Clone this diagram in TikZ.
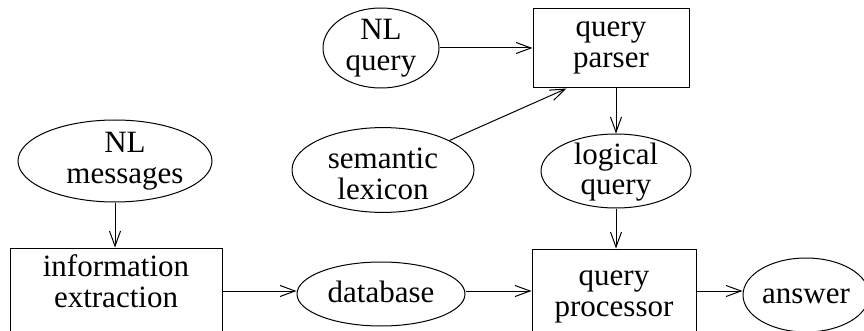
\documentclass[tikz,border=0pt]{standalone}
\usepackage{fontspec}
\setmainfont{Liberation Serif}
\usetikzlibrary{shapes.geometric,arrows.meta}
\begin{document}
\begin{tikzpicture}[x=1pt,y=-1pt,line width=1pt,
  every node/.style={font=\fontsize{31}{31}\selectfont, align=center, inner sep=0pt},
  ell/.style={draw, ellipse},
  box/.style={draw, rectangle},
  th/.style={text height=#1, text depth=0pt},
  arr/.style={-{Straight Barb[length=15pt,width=11pt,line width=1pt]}}]
\useasboundingbox (0,0) rectangle (864,331);
\clip (0,0) rectangle (864,331);
\node[ell, th=46pt, minimum width=116pt, minimum height=80pt] (nlq) at (381,48) {NL\\query};
\node[box, th=39pt, minimum width=156pt, minimum height=79pt] (qparser) at (611,48.5) {query\\parser};
\node[ell, th=60pt, minimum width=182pt, minimum height=84pt] (sem) at (383,170) {semantic\\lexicon};
\node[ell, th=48pt, minimum width=150pt, minimum height=74pt] (log) at (616,171) {logical\\query};
\node[ell, th=44pt, minimum width=194pt, minimum height=82pt] (nlm) at (115,161) {\hspace*{20pt}NL\\\hspace*{20pt}messages};
\node[box, th=32pt, minimum width=212pt, minimum height=86pt] (ie) at (116,291) {information\\extraction};
\node[ell, th=16pt, minimum width=168pt, minimum height=64pt] (db) at (381,294) {database};
\node[box, th=50pt, minimum width=164pt, minimum height=84pt] (qp) at (614,291) {query\\processor};
\node[ell, th=16pt, minimum width=126pt, minimum height=74pt] (ans) at (806,295) {answer};
\draw[arr] (nlq) -- (qparser.west |- nlq);
\draw[arr] (sem) -- ([xshift=34pt]qparser.south west);
\draw[arr] (log.north |- qparser.south) -- (log);
\draw[arr] (log.south) -- (log.south |- qp.north);
\draw[arr] (nlm.south) -- (nlm.south |- ie.north);
\draw[arr] (ie) -- (db.west |- ie);
\draw[arr] (db.east |- ie) -- (qp);
\draw[arr] (qp) -- (ans.west |- qp);
\end{tikzpicture}
\end{document}
